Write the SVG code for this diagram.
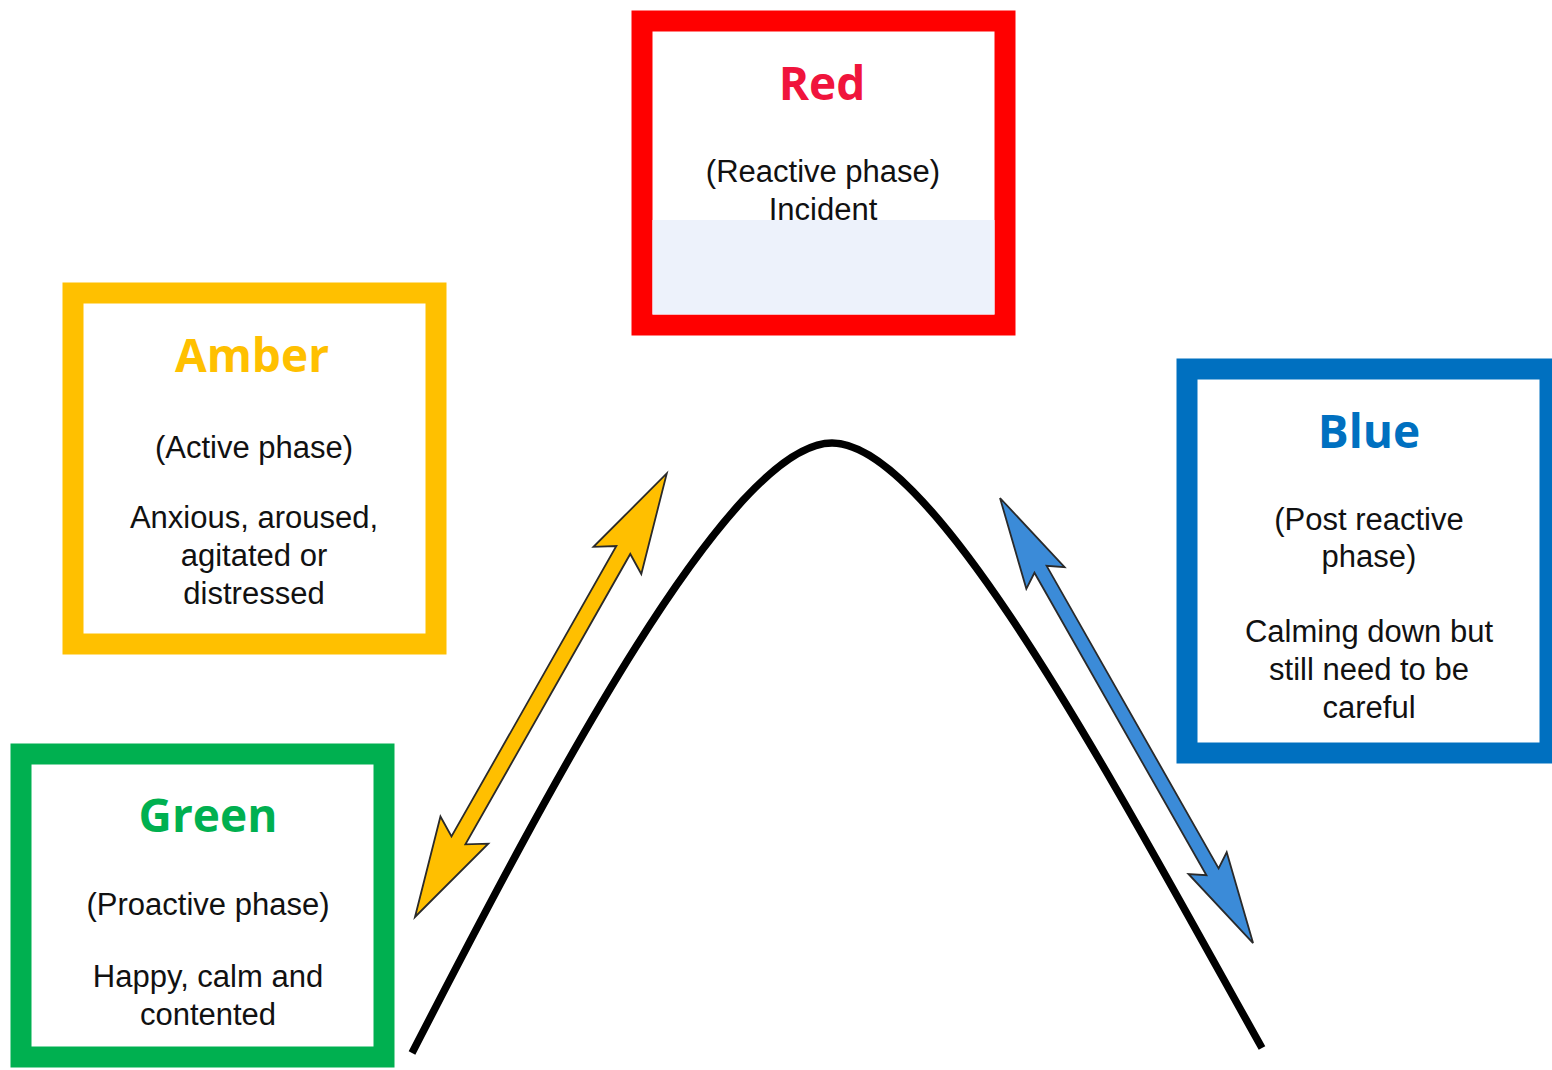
<svg xmlns="http://www.w3.org/2000/svg" width="1552" height="1070" viewBox="0 0 1552 1070">
<style>
.box{fill:#ffffff;stroke-width:21}
.title{font-family:"Open Sans","Liberation Sans",sans-serif;font-weight:700;font-size:46px;text-anchor:middle}
.body{font-family:"Liberation Sans",Arial,sans-serif;font-size:31px;fill:#111111;text-anchor:middle}
.arrow{stroke:#2a2a2a;stroke-width:1.8;stroke-linejoin:miter}
</style>
<defs>
<path id="dblA" d="M0,0 L100,-27.5 L88,-8 L422,-8 L410,-27.5 L510,0 L410,27.5 L422,8 L88,8 L100,27.5 Z"/>
<path id="dblB" d="M0,0 L92,-22 L82,-7 L430,-7 L420,-22 L512,0 L420,22 L430,7 L82,7 L92,22 Z"/>
</defs>
<rect width="1552" height="1070" fill="#ffffff"/>

<g id="curve">
<path d="M412,1053 C550,785 730,443 832,443 C934,443 1112,780 1262,1048" fill="none" stroke="#000" stroke-width="7.5" stroke-linecap="butt"/>
</g>

<g id="node-red">
<rect class="box" x="642" y="21" width="363" height="304" stroke="#ff0000"/>
<rect x="652.5" y="220" width="342" height="94.5" fill="#edf2fb"/>
<text class="title" x="822" y="100" fill="#f0143c">Red</text>
<text class="body" x="823" y="182">(Reactive phase)</text>
<text class="body" x="823" y="220">Incident</text>
</g>

<g id="node-amber">
<rect class="box" x="73" y="293" width="363" height="351" stroke="#ffc000"/>
<text class="title" x="252" y="372" fill="#ffc000">Amber</text>
<text class="body" x="254" y="458">(Active phase)</text>
<text class="body" x="254" y="528">Anxious, aroused,</text>
<text class="body" x="254" y="566">agitated or</text>
<text class="body" x="254" y="604">distressed</text>
</g>

<g id="node-blue">
<rect class="box" x="1187" y="369" width="363" height="384" stroke="#0070c0"/>
<text class="title" x="1369" y="448" fill="#0070c0">Blue</text>
<text class="body" x="1369" y="530">(Post reactive</text>
<text class="body" x="1369" y="567">phase)</text>
<text class="body" x="1369" y="642">Calming down but</text>
<text class="body" x="1369" y="680">still need to be</text>
<text class="body" x="1369" y="718">careful</text>
</g>

<g id="node-green">
<rect class="box" x="21" y="754" width="363" height="303" stroke="#00b050"/>
<text class="title" x="208" y="832" fill="#00b050">Green</text>
<text class="body" x="208" y="915">(Proactive phase)</text>
<text class="body" x="208" y="987">Happy, calm and</text>
<text class="body" x="208" y="1025">contented</text>
</g>

<g id="connectors">
<use href="#dblA" class="arrow" fill="#ffbf00" transform="translate(415,917) rotate(-60.42)"/>
<use href="#dblB" class="arrow" fill="#3b8bd8" transform="translate(1000,498) rotate(60.38)"/>
</g>
</svg>
